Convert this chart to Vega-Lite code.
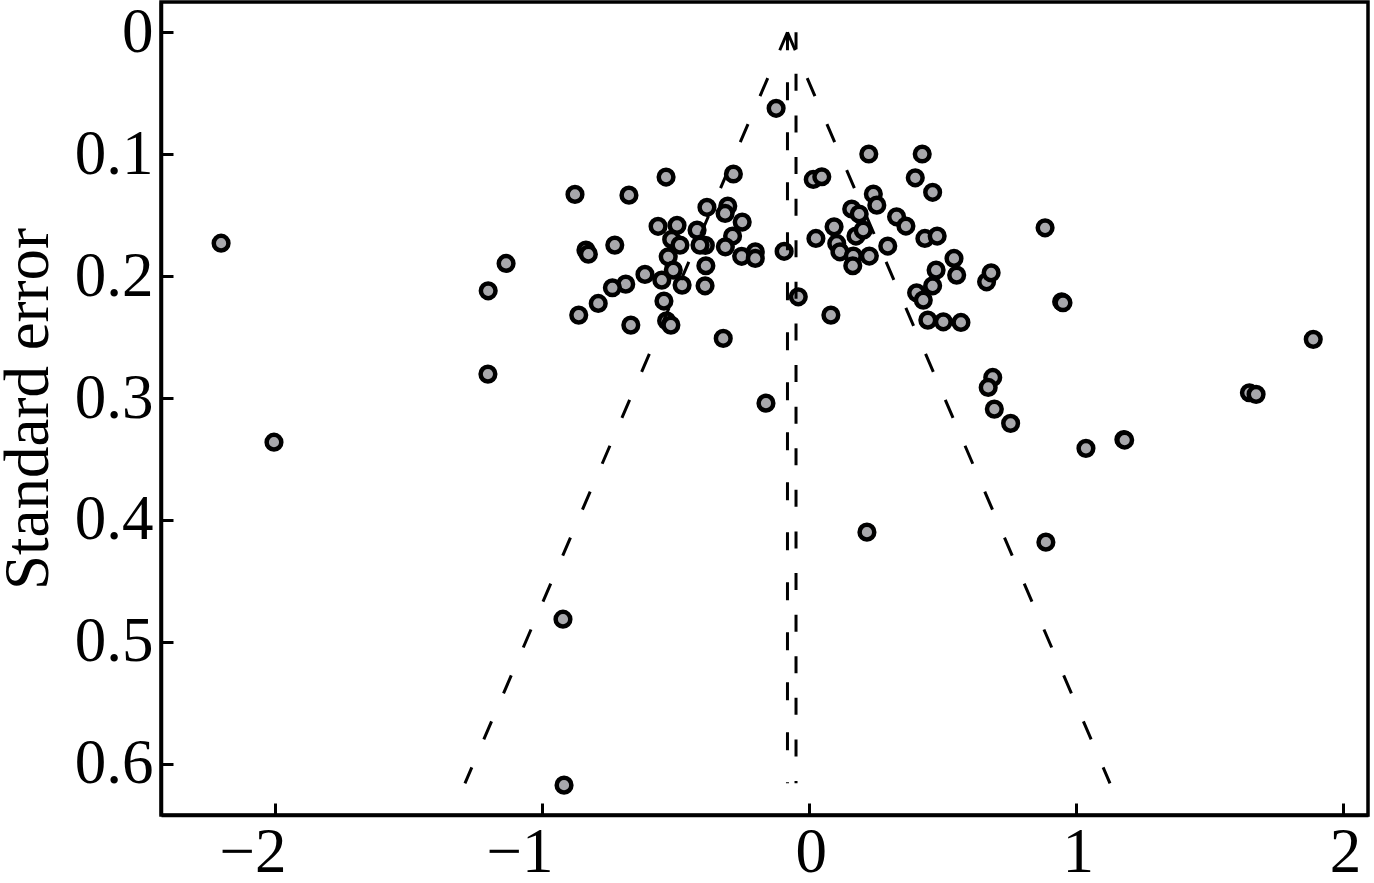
{
  "$schema": "https://vega.github.io/schema/vega-lite/v6.json",
  "width": 1207,
  "height": 813,
  "autosize": {"type": "none"},
  "padding": {"left": 161, "top": 2, "right": 6, "bottom": 68},
  "background": "white",
  "config": {
    "view": {"stroke": "black", "strokeWidth": 3.5},
    "axis": {
      "grid": false,
      "domain": true,
      "domainColor": "black",
      "domainWidth": 3.5,
      "ticks": true,
      "tickColor": "black",
      "tickWidth": 3,
      "tickSize": -12,
      "labelFont": "Liberation Serif",
      "labelFontSize": 63,
      "labelColor": "black",
      "titleFont": "Liberation Serif",
      "titleFontSize": 63,
      "titleFontWeight": "normal",
      "titleColor": "black"
    }
  },
  "layer": [
    {
      "data": {"values": [
        {"b": -2.200, "se": 0.1730}, {"b": -2.002, "se": 0.3362}, {"b": -1.200, "se": 0.2121}, {"b": -1.133, "se": 0.1896},
        {"b": -1.201, "se": 0.2804}, {"b": -0.920, "se": 0.4814}, {"b": -0.916, "se": 0.6175}, {"b": -0.875, "se": 0.1330},
        {"b": -0.673, "se": 0.1336}, {"b": -0.534, "se": 0.1188}, {"b": -0.282, "se": 0.1163}, {"b": -0.381, "se": 0.1436},
        {"b": -0.303, "se": 0.1426}, {"b": -0.313, "se": 0.1486}, {"b": -0.249, "se": 0.1557}, {"b": -0.564, "se": 0.1592},
        {"b": -0.493, "se": 0.1584}, {"b": -0.418, "se": 0.1623}, {"b": -0.285, "se": 0.1672}, {"b": -0.513, "se": 0.1699},
        {"b": -0.482, "se": 0.1746}, {"b": -0.387, "se": 0.1748}, {"b": -0.407, "se": 0.1746}, {"b": -0.312, "se": 0.1760},
        {"b": -0.251, "se": 0.1838}, {"b": -0.200, "se": 0.1801}, {"b": -0.200, "se": 0.1855}, {"b": -0.092, "se": 0.1797},
        {"b": -0.834, "se": 0.1787}, {"b": -0.825, "se": 0.1820}, {"b": -0.726, "se": 0.1746}, {"b": -0.526, "se": 0.1842},
        {"b": -0.507, "se": 0.1951}, {"b": -0.550, "se": 0.2033}, {"b": -0.474, "se": 0.2074}, {"b": -0.613, "se": 0.1986},
        {"b": -0.385, "se": 0.1915}, {"b": -0.388, "se": 0.2080}, {"b": -0.685, "se": 0.2066}, {"b": -0.735, "se": 0.2096},
        {"b": -0.788, "se": 0.2224}, {"b": -0.861, "se": 0.2320}, {"b": -0.542, "se": 0.2205}, {"b": -0.532, "se": 0.2367},
        {"b": -0.516, "se": 0.2402}, {"b": -0.666, "se": 0.2402}, {"b": -0.320, "se": 0.2511}, {"b": -0.039, "se": 0.2170},
        {"b": -0.122, "se": 0.0624}, {"b": -0.160, "se": 0.3042}, {"b": 0.225, "se": 0.0999}, {"b": 0.425, "se": 0.0999},
        {"b": 0.399, "se": 0.1194}, {"b": 0.464, "se": 0.1313}, {"b": 0.017, "se": 0.1207}, {"b": 0.049, "se": 0.1185},
        {"b": 0.242, "se": 0.1327}, {"b": 0.255, "se": 0.1418}, {"b": 0.161, "se": 0.1450}, {"b": 0.189, "se": 0.1491},
        {"b": 0.329, "se": 0.1514}, {"b": 0.364, "se": 0.1590}, {"b": 0.095, "se": 0.1596}, {"b": 0.027, "se": 0.1691},
        {"b": 0.105, "se": 0.1732}, {"b": 0.117, "se": 0.1801}, {"b": 0.177, "se": 0.1672}, {"b": 0.204, "se": 0.1623},
        {"b": 0.167, "se": 0.1836}, {"b": 0.165, "se": 0.1915}, {"b": 0.227, "se": 0.1836}, {"b": 0.296, "se": 0.1754},
        {"b": 0.435, "se": 0.1691}, {"b": 0.481, "se": 0.1672}, {"b": 0.544, "se": 0.1855}, {"b": 0.554, "se": 0.1992},
        {"b": 0.477, "se": 0.1951}, {"b": 0.464, "se": 0.2080}, {"b": 0.404, "se": 0.2137}, {"b": 0.429, "se": 0.2197},
        {"b": 0.666, "se": 0.2047}, {"b": 0.683, "se": 0.1973}, {"b": 0.885, "se": 0.1604}, {"b": 0.947, "se": 0.2211},
        {"b": 0.952, "se": 0.2219}, {"b": 0.446, "se": 0.2361}, {"b": 0.504, "se": 0.2375}, {"b": 0.570, "se": 0.2380},
        {"b": 0.083, "se": 0.2320}, {"b": 0.689, "se": 0.2831}, {"b": 0.672, "se": 0.2913}, {"b": 0.695, "se": 0.3091},
        {"b": 0.756, "se": 0.3208}, {"b": 1.038, "se": 0.3413}, {"b": 1.180, "se": 0.3340}, {"b": 1.183, "se": 0.3345},
        {"b": 1.889, "se": 0.2519}, {"b": 1.650, "se": 0.2957}, {"b": 1.675, "se": 0.2970}, {"b": 0.218, "se": 0.4100},
        {"b": 0.888, "se": 0.4182}
      ]},
      "mark": {"type": "circle", "size": 215, "fill": "#a8a8ac", "stroke": "black", "strokeWidth": 4.5, "opacity": 1, "fillOpacity": 1},
      "encoding": {
        "x": {"field": "b", "type": "quantitative", "scale": {"domain": [-2.425, 2.094], "nice": false, "zero": false},
              "axis": {"title": null, "values": [-2, -1, 0, 1, 2], "format": "~g", "labelPadding": 18,
                       "labelOffset": {"condition": {"test": "datum.value < 0", "value": -22}, "value": 2}}},
        "y": {"field": "se", "type": "quantitative", "scale": {"domain": [-0.0248, 0.642], "reverse": true, "nice": false, "zero": false},
              "axis": {"title": "Standard error", "values": [0, 0.1, 0.2, 0.3, 0.4, 0.5, 0.6], "format": "~g", "labelPadding": 20,
                       "titleAngle": -90, "titleX": -114, "titleY": 406.5, "titleBaseline": "alphabetic", "titleAlign": "center"}}
      }
    },
    {
      "data": {"values": [{"b": -0.0795, "y0": 0, "y1": 0.616}]},
      "mark": {"type": "rule", "stroke": "black", "strokeWidth": 3, "strokeDash": [18, 32]},
      "encoding": {
        "x": {"field": "b", "type": "quantitative"},
        "y": {"field": "y0", "type": "quantitative"},
        "y2": {"field": "y1"}
      }
    },
    {
      "data": {"values": [{"b": -0.0475, "y0": 0, "y1": 0.616}]},
      "mark": {"type": "rule", "stroke": "black", "strokeWidth": 3, "strokeDash": [17, 24.6]},
      "encoding": {
        "x": {"field": "b", "type": "quantitative"},
        "y": {"field": "y0", "type": "quantitative"},
        "y2": {"field": "y1"}
      }
    },
    {
      "data": {"values": [
        {"side": "L", "b": -0.0795, "se": 0},
        {"side": "L", "b": -1.287, "se": 0.616},
        {"side": "R", "b": -0.0795, "se": 0},
        {"side": "R", "b": 1.128, "se": 0.616}
      ]},
      "mark": {"type": "line", "stroke": "black", "strokeWidth": 3, "strokeDash": [19.6, 30.4]},
      "encoding": {
        "x": {"field": "b", "type": "quantitative"},
        "y": {"field": "se", "type": "quantitative"},
        "detail": {"field": "side"},
        "order": {"field": "se"}
      }
    }
  ]
}
